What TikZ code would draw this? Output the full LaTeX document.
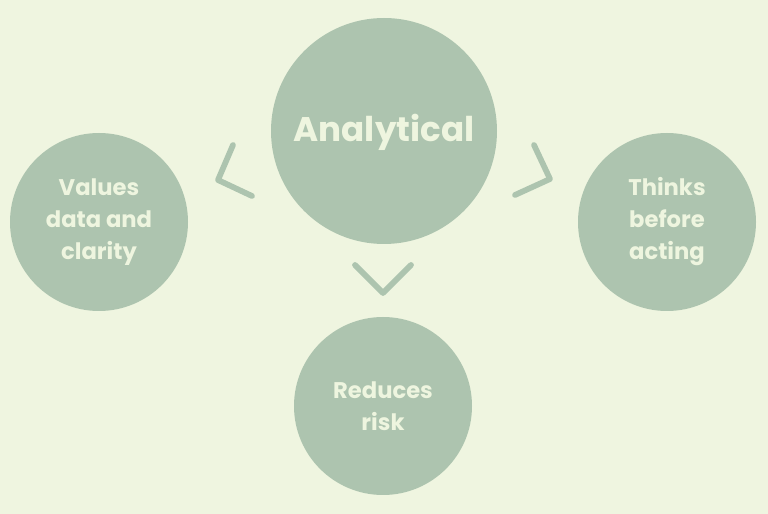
\documentclass[tikz,border=0pt]{standalone}
\usepackage{fontspec}
\setmainfont{Poppins}
\usetikzlibrary{calc}
\definecolor{bgGreen}{HTML}{EFF5E0}
\definecolor{sage}{HTML}{ADC4AF}
\definecolor{cream}{HTML}{EEF5DF}
\tikzset{
  bubble/.style={circle, fill=sage, text=cream, align=center,
                 font=\bfseries\fontsize{17}{24}\selectfont, inner sep=0pt},
  hub/.style={bubble, minimum size=169.5pt,
              font=\bfseries\fontsize{25.6}{30}\selectfont},
  leaf/.style={bubble, minimum size=133.5pt},
  chevron/.style={draw=sage, line width=4.3pt, line cap=round, line join=round},
}
\begin{document}
\begin{tikzpicture}[x=0.75pt, y=0.75pt]
  % background
  \fill[bgGreen] (0,0) rectangle (768,514);
  \useasboundingbox (0,0) rectangle (768,514);
  % central trait
  \node[hub] (analytical) at (384,383) {\raisebox{-8pt}[0pt][0pt]{Analytical}};
  % outcomes
  \node[leaf] (values) at (99,292) {Values\\data and\\clarity};
  \node[leaf] (thinks) at (667,292) {Thinks\\before\\acting};
  \node[leaf] (risk) at (383,108) {Reduces\\risk};
  % chevrons pointing outwards
  \draw[chevron] (233,369) -- (218,334) -- (252,318);
  \draw[chevron] (534,369) -- (550,335) -- (515,319);
  \draw[chevron] (355,249) -- (383,221) -- (411,249);
\end{tikzpicture}
\end{document}
